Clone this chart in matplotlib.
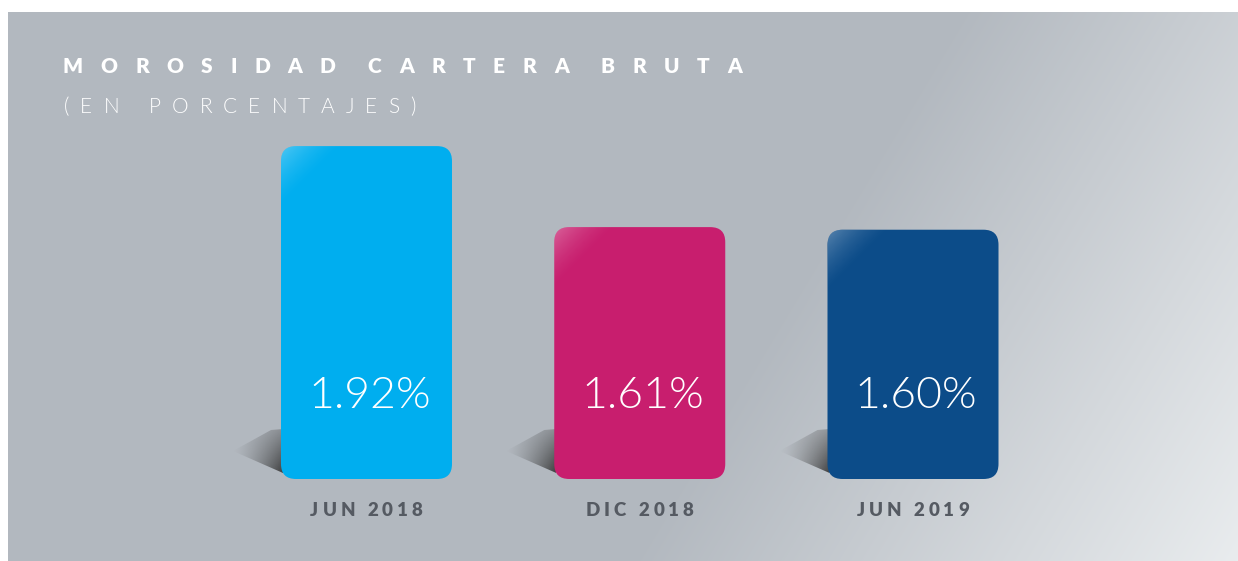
import numpy as np
import matplotlib
matplotlib.use("Agg")
import matplotlib.pyplot as plt
from matplotlib.patches import FancyBboxPatch, Polygon
from matplotlib.transforms import IdentityTransform

# data
periods = ["JUN 2018", "DIC 2018", "JUN 2019"]
values = [1.92, 1.61, 1.60]
value_labels = ["1.92%", "1.61%", "1.60%"]
colors = ["#00aeef", "#c81e6e", "#0c4c89"]
title = "MOROSIDAD CARTERA BRUTA"
subtitle = "(EN PORCENTAJES)"

W, H = 1238, 561
FONT = ["Lato", "DejaVu Sans"]

fig = plt.figure(figsize=(W / 100, H / 100), dpi=100)
fig.patch.set_facecolor("white")

# gray panel with a soft diagonal light in the lower right
bg = fig.add_axes([8 / W, 0, 1230 / W, 549 / H])
yy, xx = np.mgrid[0:549, 0:1230]
t = np.clip((xx + 0.6 * yy - 950) / 618, 0, 1)
dark = np.array([178, 184, 191]) / 255
light = np.array([234, 237, 239]) / 255
bg.imshow(dark + t[..., None] * (light - dark), aspect="auto", extent=(0, 1, 0, 1))
bg.axis("off")

# main axes, the baseline sits at about 0.646 %
ax = fig.add_axes([93.25 / W, 82 / H, 1093 / W, 349 / H])
lo = 0.646
hi = lo + 349 / 261.3
px_x = 4 / 1093
px_y = (hi - lo) / 349
bw = 171 * px_x
rad = 15 * px_x

for i, (v, c, lab) in enumerate(zip(values, colors, value_labels)):
    x0 = i - bw / 2

    # shadow on the floor, left of the bar
    sh = Polygon([(x0 + 2 * px_x, lo + 50 * px_y), (x0 - 10 * px_x, lo + 49 * px_y),
                  (x0 - 48 * px_x, lo + 28 * px_y), (x0 + 2 * px_x, lo + 6 * px_y)],
                 closed=True, facecolor="none", edgecolor="none")
    ax.add_patch(sh)
    gy, gx = np.mgrid[0:1:60j, 0:1:60j]
    rgba = np.zeros((60, 60, 4))
    rgba[..., :3] = 0.2
    rgba[..., 3] = 0.9 * gx ** 1.3 * (0.35 + 0.65 * gy)
    im = ax.imshow(rgba, extent=(x0 - 48 * px_x, x0 + 2 * px_x, lo + 6 * px_y, lo + 50 * px_y),
                   aspect="auto", zorder=1)
    im.set_clip_path(sh)

    bar = FancyBboxPatch((x0, lo), bw, v - lo,
                         boxstyle=f"round,pad=0,rounding_size={rad}",
                         mutation_aspect=px_y / px_x, facecolor=c, edgecolor="none", zorder=2)
    ax.add_patch(bar)

    # light on the top left corner
    d = gx + gy
    hl = np.ones((60, 60, 4))
    hl[..., 3] = 0.3 * np.clip(1 - d / 0.9, 0, 1) ** 1.5
    im2 = ax.imshow(hl, extent=(x0, x0 + 70 * px_x, v - 70 * px_y, v), aspect="auto", zorder=3)
    im2.set_clip_path(bar)

    ax.annotate(lab, xy=(i, lo), xytext=(2, 71 * 0.72), textcoords="offset points",
                ha="center", va="baseline", color="white", fontsize=32,
                family=FONT, fontweight=300, zorder=4)

ax.set_xlim(-1, 3)
ax.set_ylim(lo, hi)
ax.axis("off")


def spaced(x, y, s, size, weight, color, track, gap, ha="left"):
    """ Draw text with letter spacing, in pixels """
    r = fig.canvas.get_renderer()
    ws = []
    for ch in s:
        if ch == " ":
            ws.append(None)
            continue
        tx = fig.text(0, 0, ch, fontsize=size, fontweight=weight, family=FONT)
        ws.append(tx.get_window_extent(r).width)
        tx.remove()
    total = 0
    for k, w in enumerate(ws):
        total += (gap - track) if w is None else w + (track if k < len(ws) - 1 else 0)
    cur = x - total / 2 if ha == "center" else x
    for ch, w in zip(s, ws):
        if w is None:
            cur += gap - track
            continue
        fig.text(cur, y, ch, transform=IdentityTransform(), fontsize=size,
                 fontweight=weight, family=FONT, color=color, ha="left", va="baseline")
        cur += w + track


spaced(63, 488, title, 15, "heavy", "white", 17.5, 32)
spaced(64, 448, subtitle, 15, 300, "white", 11, 30)
for i, p in enumerate(periods):
    cx = ax.transData.transform((i, lo))[0]
    spaced(cx, 45, p, 13.5, "heavy", "#555a62", 4, 12, ha="center")

fig.savefig("out.png", dpi=100)
